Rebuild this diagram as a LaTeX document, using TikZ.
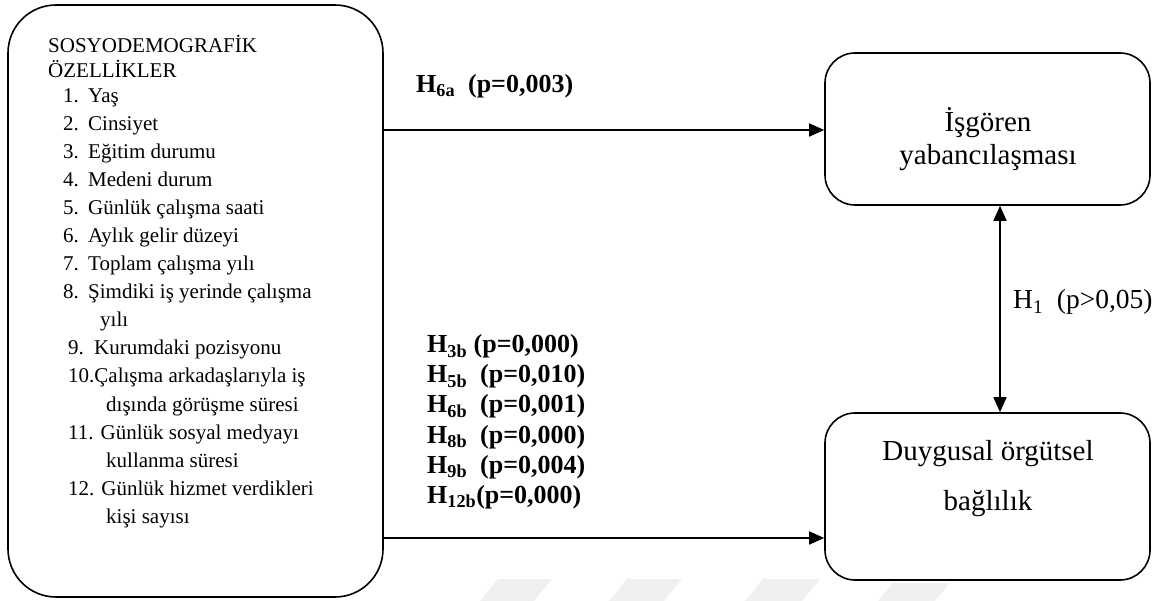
\documentclass[tikz,border=0pt]{standalone}
\usepackage{fontspec}
\setmainfont{Liberation Serif}
\usetikzlibrary{arrows.meta}
\begin{document}
\begin{tikzpicture}[x=1pt,y=-1pt,
  box/.style={draw,line width=1.6pt,rounded corners=#1,inner sep=0pt},
  arr/.style={line width=1.6pt,-{Triangle[length=15pt,width=13pt]}},
  dbl/.style={line width=1.6pt,{Triangle[length=15pt,width=13pt]}-{Triangle[length=15pt,width=13pt]}},
  lt/.style={anchor=base west,inner sep=0pt,font=\fontsize{21}{21}\selectfont},
  bt/.style={anchor=base west,inner sep=0pt,font=\fontsize{26}{26}\selectfont\bfseries},
  rt/.style={anchor=base west,inner sep=0pt,font=\fontsize{27.5}{27.5}\selectfont},
  ct/.style={anchor=base,inner sep=0pt,font=\fontsize{29}{29}\selectfont},
  wm/.style={fill=black!6,draw=none}]
\useasboundingbox (0,0) rectangle (1167,601);
% watermark
\fill[wm] (498,579) -- (552,579) -- (534,601) -- (480,601) -- cycle;
\fill[wm] (627,579) -- (682,579) -- (664,601) -- (609,601) -- cycle;
\fill[wm] (763,579) -- (820,579) -- (802,601) -- (745,601) -- cycle;
\fill[wm] (893,583) -- (950,583) -- (935,601) -- (878,601) -- cycle;
% boxes
\node[box=48pt,minimum width=375pt,minimum height=592pt] (L) at (195.5,301) {};
\node[box=30pt,minimum width=325pt,minimum height=152pt] (ib) at (987.5,129) {};
\node[box=30pt,minimum width=325pt,minimum height=167pt] (db) at (987.5,496.5) {};
% left text
\node[lt] (t1) at (48,53) {SOSYODEMOGRAFİK};
\node[lt] (t2) at (48,78) {ÖZELLİKLER};
\node[lt] (i1) at (63,103) {\makebox[25pt][l]{1.}Yaş};
\node[lt] (i2) at (63,131) {\makebox[25pt][l]{2.}Cinsiyet};
\node[lt] (i3) at (63,159) {\makebox[25pt][l]{3.}Eğitim durumu};
\node[lt] (i4) at (63,187) {\makebox[25pt][l]{4.}Medeni durum};
\node[lt] (i5) at (63,215) {\makebox[25pt][l]{5.}Günlük çalışma saati};
\node[lt] (i6) at (63,243) {\makebox[25pt][l]{6.}Aylık gelir düzeyi};
\node[lt] (i7) at (63,271) {\makebox[25pt][l]{7.}Toplam çalışma yılı};
\node[lt] (i8) at (63,299) {\makebox[25pt][l]{8.}Şimdiki iş yerinde çalışma};
\node[lt] (i8b) at (100,327) {yılı};
\node[lt] (i9) at (68,355) {\makebox[26pt][l]{9.}Kurumdaki pozisyonu};
\node[lt] (i10) at (68,383) {10.Çalışma arkadaşlarıyla iş};
\node[lt] (i10b) at (106,411) {dışında görüşme süresi};
\node[lt] (i11) at (68,439) {11. Günlük sosyal medyayı};
\node[lt] (i11b) at (106,467) {kullanma süresi};
\node[lt] (i12) at (68,495) {12. Günlük hizmet verdikleri};
\node[lt] (i12b) at (106,523) {kişi sayısı};
% right text
\node[ct] (r1) at (988,132) {İşgören};
\node[ct] (r2) at (988,165) {yabancılaşması};
\node[ct] (r3) at (988,460) {Duygusal örgütsel};
\node[ct] (r4) at (988,510) {bağlılık};
% labels
\node[bt] (h6a) at (416,93) {H\textsubscript{6a}\ \ (p=0,003)};
\node[bt] (h3b) at (427,353) {H\textsubscript{3b} (p=0,000)};
\node[bt] (h5b) at (427,383) {H\textsubscript{5b}\ \ (p=0,010)};
\node[bt] (h6b) at (427,413) {H\textsubscript{6b}\ \ (p=0,001)};
\node[bt] (h8b) at (427,443) {H\textsubscript{8b}\ \ (p=0,000)};
\node[bt] (h9b) at (427,473) {H\textsubscript{9b}\ \ (p=0,004)};
\node[bt] (h12b) at (427,503) {H\textsubscript{12b}(p=0,000)};
\node[rt] (h1) at (1013,309) {H\textsubscript{1}\ \ (p>0,05)};
% connectors
\coordinate (ya) at (0,130);
\coordinate (yb) at (0,538);
\coordinate (vx) at (1000,0);
\draw[arr] (L.east |- ya) -- (ib.west |- ya);
\draw[arr] (L.east |- yb) -- (db.west |- yb);
\draw[dbl] (ib.south -| vx) -- (db.north -| vx);
\end{tikzpicture}
\end{document}
